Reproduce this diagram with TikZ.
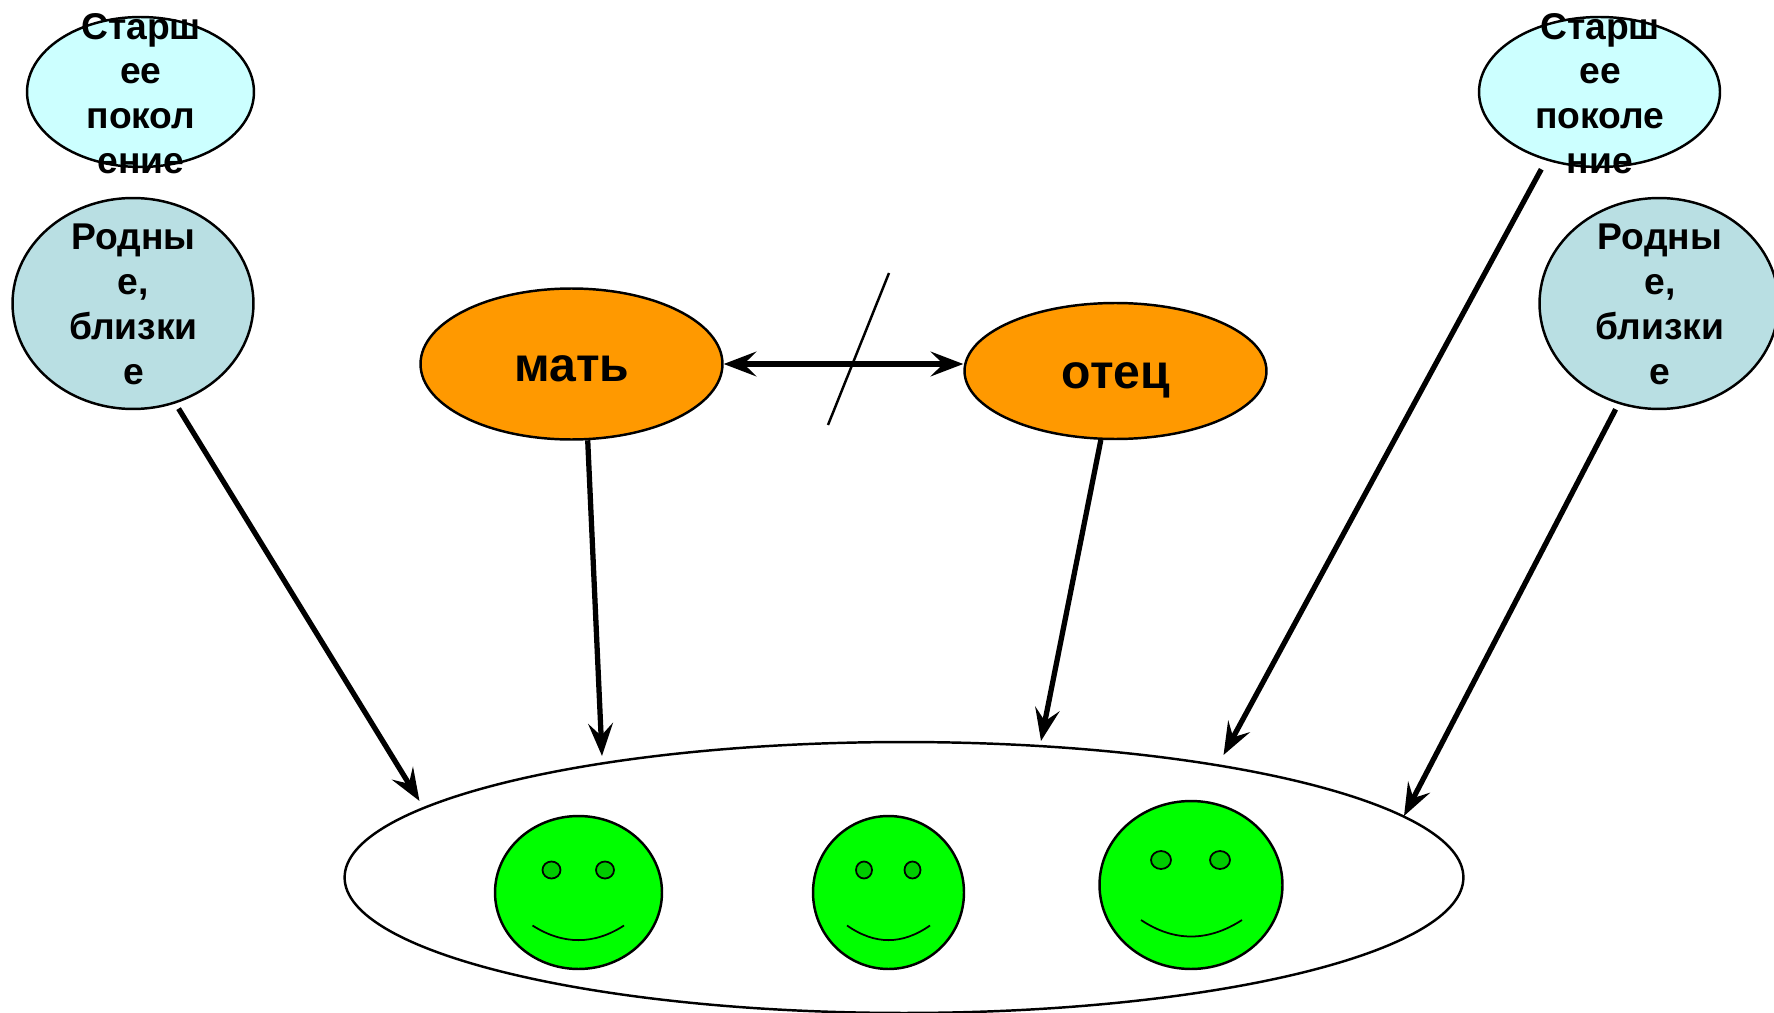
\documentclass[tikz,border=0pt]{standalone}
\usepackage{fontspec}
\setmainfont{Liberation Sans}
\usetikzlibrary{arrows.meta,shapes.geometric}
\definecolor{paleblue}{HTML}{CCFFFF}
\definecolor{greyblue}{HTML}{B9DFE3}
\definecolor{motherorange}{HTML}{FF9900}
\definecolor{facegreen}{HTML}{00FF00}
\definecolor{eyegreen}{HTML}{00CC00}
\tikzset{
  >={Stealth[length=18.5pt,width=14pt,inset=7pt]},
  oval/.style={ellipse, draw=black, line width=1.4pt, inner sep=0pt},
  oldoval/.style={oval, fill=paleblue, minimum height=3cm},
  kinoval/.style={oval, fill=greyblue, minimum height=4.22cm},
  parentoval/.style={oval, fill=motherorange, minimum width=6.04cm},
  face/.style={oval, fill=facegreen},
  eye/.style={oval, fill=eyegreen, line width=1pt},
  smile/.style={line width=1pt},
  stacked/.style={font=\bfseries\fontsize{21.2pt}{25.5pt}\selectfont, align=center, inner sep=0pt},
  parentname/.style={font=\bfseries\fontsize{27.4pt}{30pt}\selectfont, inner sep=0pt},
  link/.style={draw, line width=3pt, ->}
}
\begin{document}
\begin{tikzpicture}[x=0.02cm,y=-0.02cm]
    \useasboundingbox (0,0) rectangle (1774,1013);
    % Elders and relatives
    \node (elderl) [oldoval, minimum width=4.54cm] at (140.5,92) {};
    \node (elderr) [oldoval, minimum width=4.82cm] at (1599.5,92) {};
    \node (kinl) [kinoval, minimum width=4.82cm] at (133,303.5) {};
    \node (kinr) [kinoval, minimum width=4.78cm] at (1659,303.5) {};
    \node (elderltext) [stacked] at (141,93.5) {Старш\\ее\\покол\\ение};
    \node (elderrtext) [stacked] at (1600,93.5) {Старш\\ее\\поколе\\ние};
    \node (kinltext) [stacked] at (133.5,304.5) {Родны\\е,\\близки\\е};
    \node (kinrtext) [stacked] at (1660,304.5) {Родны\\е,\\близки\\е};
    % Parents
    \node (mother) [parentoval, minimum height=3.02cm] at (571.5,364) {};
    \node (father) [parentoval, minimum height=2.72cm] at (1115.5,371) {};
    \node (mothertext) [parentname] at (572,369) {мать};
    \node (fathertext) [parentname] at (1116,380) {отец};
    % Children
    \node (family) [oval, minimum width=22.38cm, minimum height=5.42cm] at (904,877.5) {};
    \node (facea) [face, minimum width=3.34cm, minimum height=3.06cm] at (578.5,892.5) {};
    \node (faceb) [face, minimum width=3.02cm, minimum height=3.06cm] at (888.5,892.5) {};
    \node (facec) [face, minimum width=3.66cm, minimum height=3.36cm] at (1191,885) {};
    \node (eyea1) [eye, minimum width=0.36cm, minimum height=0.34cm] at (551.5,870) {};
    \node (eyea2) [eye, minimum width=0.36cm, minimum height=0.34cm] at (605,870) {};
    \node (eyeb1) [eye, minimum width=0.32cm, minimum height=0.34cm] at (864,870) {};
    \node (eyeb2) [eye, minimum width=0.32cm, minimum height=0.34cm] at (912.5,870) {};
    \node (eyec1) [eye, minimum width=0.4cm, minimum height=0.36cm] at (1161,860) {};
    \node (eyec2) [eye, minimum width=0.4cm, minimum height=0.36cm] at (1220,860) {};
    \draw [smile] (532.5,925.5) .. controls (563,945) and (594,945) .. (624,925.5);
    \draw [smile] (847,925.5) .. controls (875,945) and (902,945) .. (930,925.5);
    \draw [smile] (1141,920) .. controls (1174,942) and (1208,942) .. (1242,920);
    % Arrow ends above the big oval
    \coordinate (tipkinl) at (419.5,801);
    \coordinate (tipmother) at (602,756);
    \coordinate (tipfather) at (1041,741);
    \coordinate (tipelder) at (1223.5,755);
    \coordinate (tipkinr) at (1404,816);
    % Arrows
    \draw [link, shorten <=0.12cm] (kinl.-67) -- (tipkinl);
    \draw [link] (mother.-78.7) -- (tipmother);
    \draw [link] (father.-102.4) -- (tipfather);
    \draw [link, shorten <=0.2cm] (elderr.-128) -- (tipelder);
    \draw [link, shorten <=0.12cm] (kinr.-112.5) -- (tipkinr);
    \draw [link, <->] (mother) -- (mother -| father.west);
    % Stroke through the double arrow
    \coordinate (slashtop) at (889,273);
    \coordinate (slashbot) at (828,425);
    \draw [line width=1.4pt] (slashtop) -- (slashbot);
\end{tikzpicture}
\end{document}
